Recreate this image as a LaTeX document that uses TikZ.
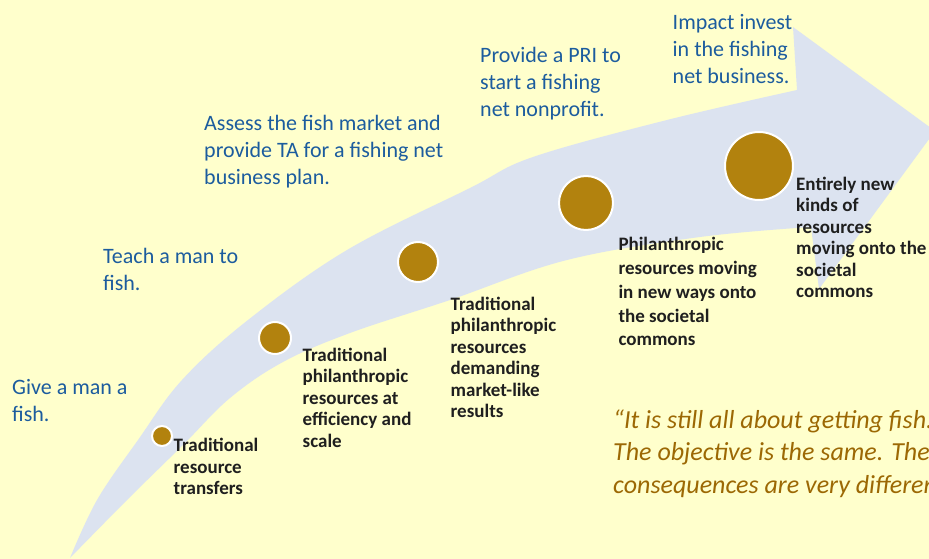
\documentclass[tikz,border=0pt]{standalone}
\usepackage{fontspec}
\setmainfont{Carlito}
\definecolor{bgyellow}{RGB}{255,255,204}
\definecolor{arrowblue}{RGB}{220,227,240}
\definecolor{dotgold}{RGB}{178,130,14}
\definecolor{txtblue}{RGB}{28,92,158}
\definecolor{quotebrown}{RGB}{156,104,4}
\tikzset{
  bluetxt/.style={anchor=north west, inner sep=0pt, align=left, text=txtblue, font={\fontsize{22}{27}\selectfont}},
  blacktxt/.style={anchor=north west, inner sep=0pt, align=left, text=black!88, font={\bfseries\fontsize{19}{21.5}\selectfont}},
  quotetxt/.style={anchor=north west, inner sep=0pt, align=left, text=quotebrown, font={\itshape\fontsize{26}{32.5}\selectfont}},
  golddot/.style={circle, fill=dotgold, draw=white, line width=2pt, inner sep=0pt},
}
\begin{document}
\begin{tikzpicture}[x=1pt,y=-1pt]
\clip (0,0) rectangle (929,559);
\fill[bgyellow] (0,0) rectangle (929,559);
% big curved arrow
\fill[arrowblue] (70,558)
  -- plot[smooth, tension=0.6] coordinates {(70,558) (97,500) (138,440) (182,380) (248,320) (347,250) (470,188) (533,157) (667,120) (797,90)}
  -- (793,27) -- (935,131) -- (819,289) -- (811,227)
  -- plot[smooth, tension=0.6] coordinates {(811,227) (700,237) (567,260) (450,300) (350,333) (283,362) (230,398) (183,445) (127,500) (70,558)}
  -- cycle;
% dots
\node[golddot, minimum size=20pt] (d1) at (162,436) {};
\node[golddot, minimum size=32pt] (d2) at (275,338) {};
\node[golddot, minimum size=40pt] (d3) at (418,262) {};
\node[golddot, minimum size=54pt] (d4) at (586,203) {};
\node[golddot, minimum size=68pt] (d5) at (759,166) {};
% blue texts
\node[bluetxt] (b1) at (12,375) {\strut Give a man a\\fish.};
\node[bluetxt] (b2) at (103,244.4) {\strut Teach a man to\\fish.};
\node[bluetxt] (b3) at (204,111) {\strut Assess the fish market and\\provide TA for a fishing net\\business plan.};
\node[bluetxt] (b4) at (480,43.5) {\strut Provide a PRI to\\start a fishing\\net nonprofit.};
\node[bluetxt] (b5) at (672.5,10.5) {\strut Impact invest\\in the fishing\\net business.};
% black texts
\node[blacktxt] (k1) at (173.5,436.6) {\strut Traditional\\resource\\transfers};
\node[blacktxt] (k2) at (302.5,346) {\strut Traditional\\philanthropic\\resources at\\efficiency and\\scale};
\node[blacktxt] (k3) at (450.5,295) {\strut Traditional\\philanthropic\\resources\\demanding\\market-like\\results};
\node[blacktxt, font={\bfseries\fontsize{19}{23.75}\selectfont}] (k4) at (618.3,234.1) {\strut Philanthropic\\resources moving\\in new ways onto\\the societal\\commons};
\node[blacktxt] (k5) at (796,175) {\strut Entirely new\\kinds of\\resources\\moving onto the\\societal\\commons};
% quote
\node[quotetxt] (q) at (613,405.5) {\strut “It is still all about getting fish.\\The objective is the same. The\\consequences are very different.”};
\end{tikzpicture}
\end{document}
